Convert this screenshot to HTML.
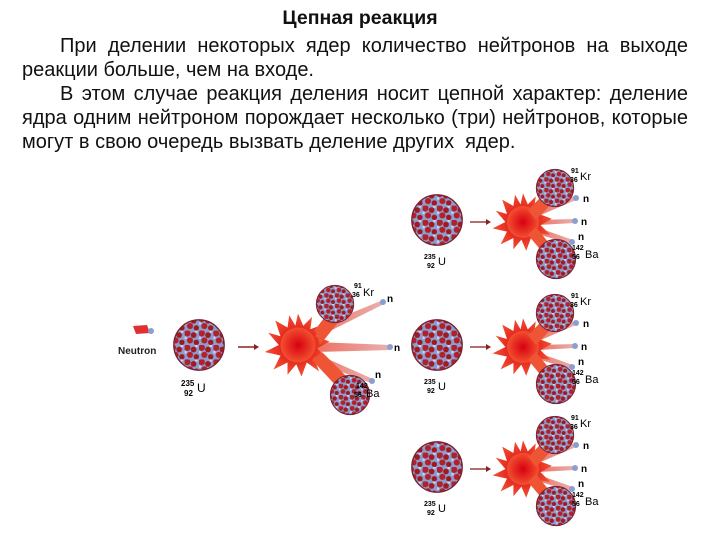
<!DOCTYPE html>
<html><head><meta charset="utf-8"><style>
body{margin:0;width:720px;height:540px;background:#fff;overflow:hidden;font-family:"Liberation Sans",sans-serif;}
.t{position:absolute;left:0;width:720px;top:6px;text-align:center;font-weight:bold;font-size:19.5px;line-height:24px;color:#111}
.p{position:absolute;left:22px;width:666px;top:34px;font-size:20px;line-height:24px;text-align:justify;color:#111;white-space:nowrap}
.p div{text-align-last:justify}
.p div.i{text-indent:38px}
.p div.l{text-align-last:left}
svg{position:absolute;left:0;top:0}
</style></head><body>
<div class="t">Цепная реакция</div>
<div class="p">
<div class="i">При делении некоторых ядер количество нейтронов на выходе</div>
<div class="l">реакции больше, чем на входе.</div>
<div class="i">В этом случае реакция деления носит цепной характер: деление</div>
<div>ядра одним нейтроном порождает несколько (три) нейтронов, которые</div>
<div class="l">могут в свою очередь вызвать деление других&nbsp; ядер.</div>
</div>
<svg width="720" height="540" viewBox="0 0 720 540" font-family="Liberation Sans,sans-serif" font-weight="bold">
<defs>
<pattern id="pt" width="16" height="16" patternUnits="userSpaceOnUse">
<rect width="16" height="16" fill="#8a9fd0"/>
<circle cx="3" cy="3" r="3.6" fill="#b0222a"/>
<circle cx="10" cy="5" r="3.2" fill="#a11a22"/>
<circle cx="6" cy="11" r="3.4" fill="#b52028"/>
<circle cx="13" cy="13" r="3" fill="#9e1820"/>
<circle cx="13" cy="1" r="1.6" fill="#c9d2ee"/>
<circle cx="1" cy="8" r="1.5" fill="#c9d2ee"/>
</pattern>
<radialGradient id="ex" cx="0.5" cy="0.5" r="0.5"><stop offset="0" stop-color="#d80010"/><stop offset="1" stop-color="#f25030"/></radialGradient>
<linearGradient id="bm" x1="0" x2="1"><stop offset="0" stop-color="#ee7060"/><stop offset="1" stop-color="#e8b0b0"/></linearGradient>
<symbol id="nuc" viewBox="-30 -30 60 60"><circle r="28" fill="url(#pt)" stroke="#7a2030" stroke-width="1.5"/></symbol>
<symbol id="exp" viewBox="-40 -40 80 80"><polygon fill="url(#ex)" points="0,-36 6,-22 16,-32 14,-18 30,-24 20,-10 36,-4 22,4 34,16 18,14 24,30 10,20 4,36 -2,22 -12,34 -12,20 -28,28 -20,12 -38,8 -22,0 -34,-14 -20,-10 -26,-28 -12,-20 -10,-34 -3,-22"/><circle r="20" fill="url(#ex)"/></symbol>
</defs>
<polygon points="133,326 147,325 150,333 136,334" fill="#e03030"/><circle cx="151" cy="331" r="3" fill="#8a9fd0"/>
<text x="118" y="354" font-size="10" fill="#222">Neutron</text>
<use href="#nuc" x="172" y="318" width="54" height="54"/>
<text x="181" y="386" font-size="8">235</text><text x="184" y="396" font-size="8">92</text><text x="197" y="392" font-size="12" font-weight="normal">U</text>
<line x1="238" y1="347" x2="254" y2="347" stroke="#822" stroke-width="1.5"/><polygon points="254,344 259,347 254,350" fill="#822"/>
<polygon points="310,330 383,300 384,304 312,340" fill="url(#bm)"/>
<polygon points="315,342 390,345 390,350 315,352" fill="url(#bm)"/>
<polygon points="312,352 373,379 371,383 310,360" fill="url(#bm)"/>
<use href="#exp" x="263" y="310" width="70" height="70"/>
<polygon points="315,330 330,310 340,320 320,345" fill="#ee5535"/>
<polygon points="312,360 340,390 350,380 322,352" fill="#ee5535"/>
<use href="#nuc" x="315" y="284" width="40" height="40"/>
<use href="#nuc" x="329" y="374" width="42" height="42"/>
<circle cx="383" cy="302" r="3" fill="#8a9fd0"/><circle cx="390" cy="347" r="3" fill="#8a9fd0"/><circle cx="372" cy="381" r="3" fill="#8a9fd0"/>
<text x="387" y="302" font-size="10">n</text><text x="394" y="351" font-size="10">n</text><text x="375" y="378" font-size="10">n</text>
<text x="354" y="288" font-size="7">91</text><text x="352" y="297" font-size="7">36</text><text x="363" y="296" font-size="11" font-weight="normal">Kr</text>
<text x="356" y="388" font-size="7">142</text><text x="354" y="397" font-size="7">56</text><text x="366" y="397" font-size="11" font-weight="normal">Ba</text>
<g transform="translate(0,-125)"><g id="G">
<use href="#nuc" x="410" y="318" width="54" height="54"/>
<text x="424" y="384" font-size="7">235</text><text x="427" y="393" font-size="7">92</text><text x="438" y="390" font-size="11" font-weight="normal">U</text>
<line x1="470" y1="347" x2="486" y2="347" stroke="#822" stroke-width="1.3"/><polygon points="486,344 491,347 486,350" fill="#822"/>
<polygon points="534,335 575,321 576,325 536,342" fill="url(#bm)"/>
<polygon points="538,345 575,344 575,348 538,350" fill="url(#bm)"/>
<polygon points="536,352 573,365 571,369 534,358" fill="url(#bm)"/>
<use href="#exp" x="491" y="315" width="64" height="64"/>
<polygon points="528,335 545,318 552,328 536,345" fill="#ee5535"/>
<polygon points="528,360 545,380 552,372 536,352" fill="#ee5535"/>
<use href="#nuc" x="535" y="293" width="40" height="40"/>
<use href="#nuc" x="535" y="363" width="42" height="42"/>
<circle cx="576" cy="323" r="3" fill="#8a9fd0"/><circle cx="575" cy="346" r="3" fill="#8a9fd0"/><circle cx="572" cy="367" r="3" fill="#8a9fd0"/>
<text x="583" y="327" font-size="10">n</text><text x="581" y="350" font-size="10">n</text><text x="578" y="365" font-size="10">n</text>
<text x="571" y="298" font-size="7">91</text><text x="570" y="307" font-size="7">36</text><text x="580" y="305" font-size="11" font-weight="normal">Kr</text>
<text x="572" y="375" font-size="7">142</text><text x="572" y="384" font-size="7">56</text><text x="585" y="383" font-size="11" font-weight="normal">Ba</text>
</g></g>
<use href="#G"/>
<use href="#G" y="122"/>
</svg>
</body></html>
